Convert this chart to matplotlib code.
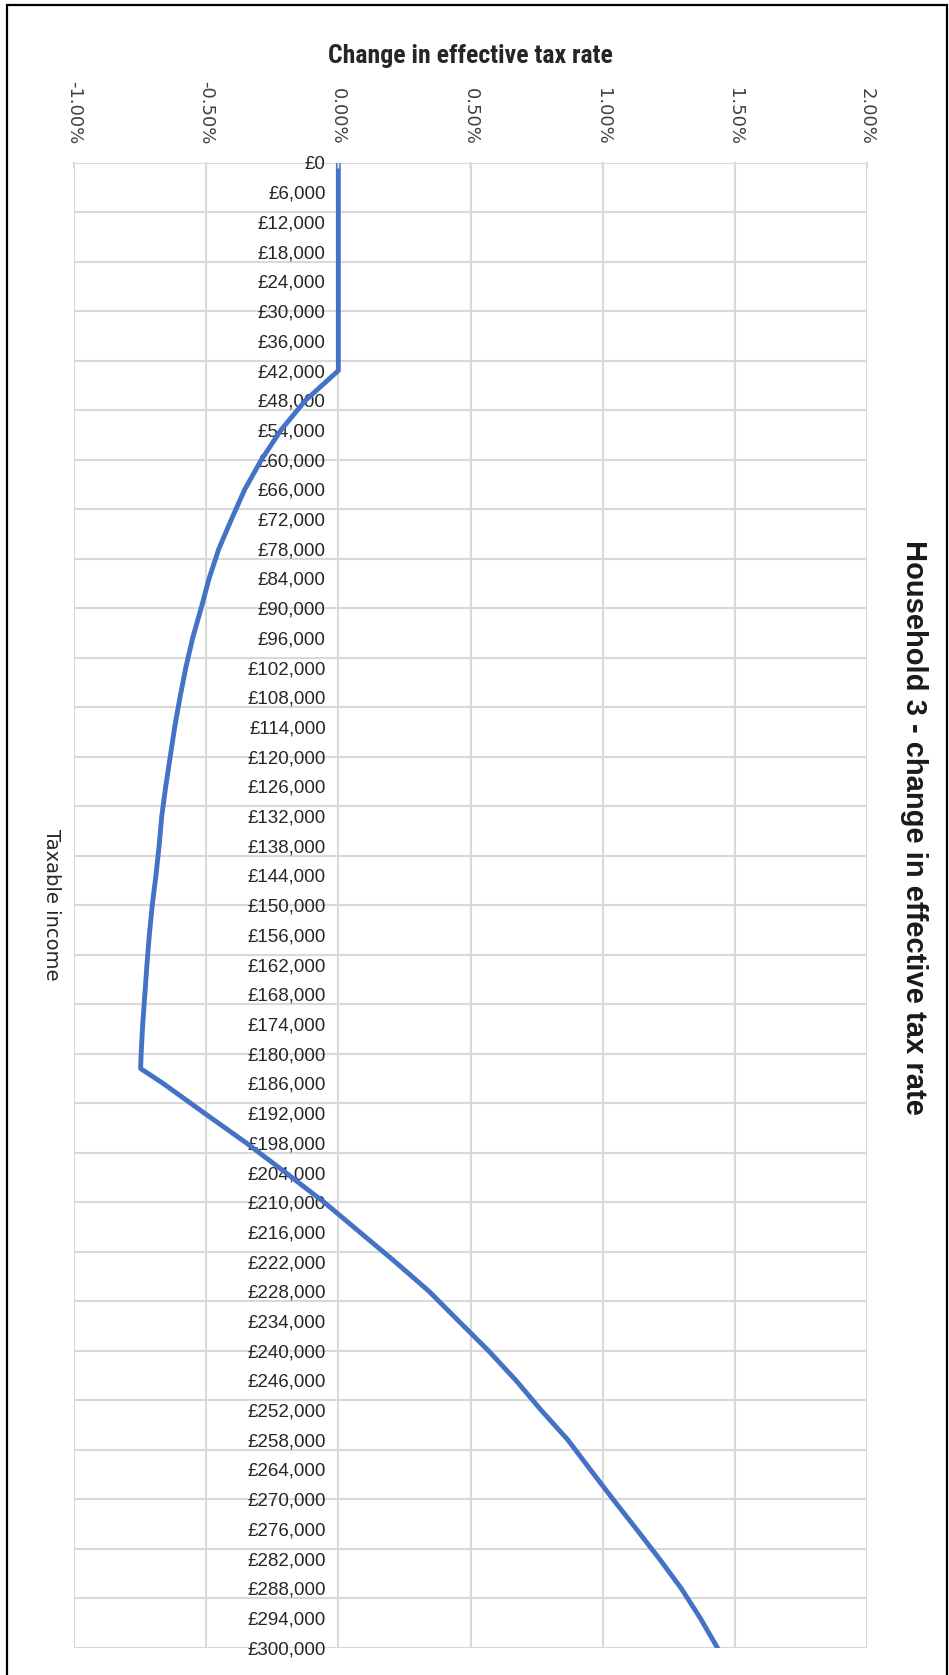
import matplotlib
matplotlib.use("Agg")
import matplotlib.pyplot as plt
from matplotlib import font_manager
from matplotlib.ticker import FixedLocator, FuncFormatter, NullFormatter
from matplotlib.patches import Rectangle

# Taxable income (GBP) and change in effective tax rate (percentage points)
income = [0, 6000, 12000, 18000, 24000, 30000, 36000, 42000, 48000, 54000,
          60000, 66000, 72000, 78000, 84000, 90000, 96000, 102000, 108000, 114000,
          120000, 126000, 132000, 138000, 144000, 150000, 156000, 162000, 168000, 174000,
          180000, 183000, 186000, 192000, 198000, 204000, 210000, 216000, 222000, 228000,
          234000, 240000, 246000, 252000, 258000, 264000, 270000, 276000, 282000, 288000,
          294000, 300000]
rate_change = [0.0, 0.0, 0.0, 0.0, 0.0, 0.0, 0.0, 0.0, -0.124, -0.217,
               -0.291, -0.354, -0.404, -0.452, -0.489, -0.519, -0.551, -0.577, -0.599, -0.619,
               -0.636, -0.653, -0.668, -0.678, -0.690, -0.704, -0.715, -0.724, -0.732, -0.740,
               -0.746, -0.748, -0.663, -0.507, -0.349, -0.200, -0.054, 0.080, 0.214, 0.343,
               0.455, 0.568, 0.672, 0.767, 0.868, 0.953, 1.039, 1.127, 1.214, 1.297,
               1.369, 1.434]

income_labels = list(range(0, 300001, 6000))
income_grid = list(range(0, 300001, 10000))
rate_ticks = [-1.0, -0.5, 0.0, 0.5, 1.0, 1.5, 2.0]

title = "Household 3 - change in effective tax rate"
x_title = "Change in effective tax rate"
y_title = "Taxable income"


def pick_font(candidates):
    for name in candidates:
        try:
            font_manager.findfont(font_manager.FontProperties(family=name),
                                  fallback_to_default=False)
            return name
        except Exception:
            continue
    return "DejaVu Sans"


base_font = pick_font(["Liberation Sans", "Arial", "DejaVu Sans"])
narrow_font = pick_font(["Liberation Sans Narrow", "Roboto Condensed", "Liberation Sans"])
plt.rcParams["font.family"] = [base_font, "DejaVu Sans"]

W, H = 949, 1675
fig = plt.figure(figsize=(W / 100, H / 100), dpi=100)
fig.patch.set_facecolor("white")

left, right, top, bottom = 74, 867, 162.7, 1647.7
ax = fig.add_axes([left / W, 1 - bottom / H, (right - left) / W, (bottom - top) / H])

ax.plot(rate_change, income, color="#4472C4", lw=3.5, solid_joinstyle="round",
        solid_capstyle="round", zorder=3)

ax.set_xlim(-1.0, 2.0)
ax.set_ylim(300000, 0)

# value axis on top, labels rotated
ax.xaxis.tick_top()
ax.xaxis.set_major_locator(FixedLocator(rate_ticks))
ax.xaxis.set_major_formatter(FuncFormatter(lambda v, p: f"{v:.2f}%"))
ax.tick_params(axis="x", which="major", top=True, bottom=False, length=0, pad=13,
               labelsize=13, labelrotation=270, labelcolor="#404040")
for lbl in ax.get_xticklabels():
    lbl.set_family(["DejaVu Sans"])
ax.grid(axis="x", which="major", color="#d9d9d9", lw=1.5, zorder=0)

# income axis: gridlines every 10k (major), labels every 6k (minor) beside the zero line
ax.spines["left"].set_position(("data", 0))
ax.yaxis.remove_overlapping_locs = False
ax.yaxis.set_major_locator(FixedLocator(income_grid))
ax.yaxis.set_major_formatter(NullFormatter())
ax.yaxis.set_minor_locator(FixedLocator(income_labels))
ax.yaxis.set_minor_formatter(FuncFormatter(lambda v, p: f"£{int(v):,}"))
ax.tick_params(axis="y", which="major", length=0)
ax.tick_params(axis="y", which="minor", length=0, pad=9, labelsize=13.5,
               labelcolor="#262626")
ax.grid(axis="y", which="major", color="#d9d9d9", lw=1.5, zorder=0)
ax.grid(axis="y", which="minor", visible=False)

for s in ax.spines.values():
    s.set_visible(False)

# short tick marks below the last gridline
for xv in rate_ticks:
    ax.annotate("", xy=(xv, 1), xycoords=("data", "axes fraction"),
                xytext=(0, -5), textcoords="offset pixels",
                arrowprops=dict(arrowstyle="-", color="#d9d9d9", lw=1.5,
                                shrinkA=0, shrinkB=0))

fig.text(470.5 / W, 1 - 56 / H, x_title, ha="center", va="center",
         fontsize=18.5, fontweight="bold", family=[narrow_font, "DejaVu Sans"],
         color="#262626")
fig.text(51 / W, 1 - 905 / H, y_title, ha="center", va="center", rotation=270,
         fontsize=14, family=["DejaVu Sans"], color="#262626")
fig.text(914 / W, 1 - 827 / H, title, ha="center", va="center", rotation=270,
         fontsize=21, fontweight="bold", color="#1a1a1a")

# chart frame
fig.patches.append(Rectangle((7 / W, -0.01), 940 / W, 1 - 5 / H + 0.01,
                             transform=fig.transFigure, fill=False,
                             edgecolor="black", lw=1.6))

fig.savefig("out.png", dpi=100, facecolor="white")
